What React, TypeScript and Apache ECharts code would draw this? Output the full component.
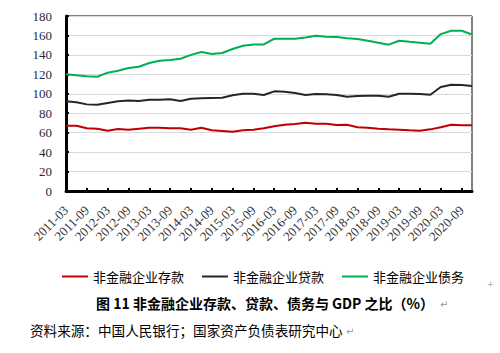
import React, { useEffect, useRef } from "react";
import * as echarts from "echarts";

const categories = [
  "2011-03", "2011-06", "2011-09", "2011-12",
  "2012-03", "2012-06", "2012-09", "2012-12",
  "2013-03", "2013-06", "2013-09", "2013-12",
  "2014-03", "2014-06", "2014-09", "2014-12",
  "2015-03", "2015-06", "2015-09", "2015-12",
  "2016-03", "2016-06", "2016-09", "2016-12",
  "2017-03", "2017-06", "2017-09", "2017-12",
  "2018-03", "2018-06", "2018-09", "2018-12",
  "2019-03", "2019-06", "2019-09", "2019-12",
  "2020-03", "2020-06", "2020-09", "2020-12",
];

const seriesNames = ["非金融企业存款", "非金融企业贷款", "非金融企业债务"];

const deposits = [
  67.2, 67.2, 64.5, 64.1, 62, 63.8, 63, 64.1, 65.1, 65.1,
  64.5, 64.5, 63, 65.1, 62.4, 61.7, 61, 62.4, 63, 64.5,
  66.5, 68.2, 68.9, 70.2, 69.2, 69.2, 67.9, 68.2, 65.5, 65.1,
  64.1, 63.4, 63, 62.4, 62, 63.4, 65.5, 68.2, 67.6, 67.6,
];

const loans = [
  92.2, 91.2, 89.1, 88.7, 90.5, 92.2, 93.2, 92.5, 93.9, 93.9,
  94.3, 92.5, 94.9, 95.3, 95.6, 95.9, 98.4, 100, 100, 98.7,
  102.5, 102.1, 100.8, 98.7, 99.7, 99.4, 98.7, 97, 97.7, 98,
  98, 97, 100, 100, 99.7, 99, 106.9, 109.3, 109, 108,
];

const debt = [
  120, 119, 118, 117.5, 121.7, 123.7, 126.5, 127.8, 131.6, 134,
  134.7, 136, 140, 143, 141, 142, 146, 149.4, 150.8, 150.8,
  156.6, 156.6, 156.6, 158, 159.7, 158.7, 158.4, 157, 156.3, 154.6,
  152.5, 150.5, 154.6, 153.5, 152.5, 151.5, 161.4, 164.8, 164.8, 161,
];

const colors = ["#C00000", "#262626", "#00B050"];

const titleText = "图 11 非金融企业存款、贷款、债务与 GDP 之比（%）";
const sourceText = "资料来源：中国人民银行；国家资产负债表研究中心";

export default function App() {
  const ref = useRef<HTMLDivElement>(null);

  useEffect(() => {
    if (!ref.current) return;
    const chart = echarts.init(ref.current, undefined, { renderer: "svg" });
    const serif = "'Liberation Serif', 'Times New Roman', serif";
    const cjk = "'Noto Sans CJK SC', sans-serif";
    const dataSets = [deposits, loans, debt];
    chart.setOption({
      animation: false,
      backgroundColor: "#ffffff",
      grid: {
        left: 66,
        right: 28,
        top: 16,
        bottom: 162,
        show: true,
        borderColor: "#000",
        borderWidth: 1,
      },
      legend: {
        left: 57,
        top: 265,
        itemWidth: 26,
        itemHeight: 2,
        itemGap: 18,
        icon: "rect",
        data: seriesNames,
        textStyle: { fontFamily: cjk, fontSize: 13, color: "#000" },
      },
      xAxis: {
        type: "category",
        boundaryGap: false,
        data: categories,
        axisLine: { show: true, lineStyle: { color: "#000", width: 3 } },
        axisTick: { show: true, inside: true, length: 3, interval: 1, lineStyle: { color: "#000", width: 2 } },
        axisLabel: {
          interval: 1,
          rotate: 45,
          margin: 17,
          fontFamily: serif,
          fontSize: 13,
          color: "#333",
        },
        splitLine: { show: false },
      },
      yAxis: {
        type: "value",
        min: 0,
        max: 180,
        interval: 20,
        axisLine: { show: true, lineStyle: { color: "#000", width: 3 } },
        axisTick: { show: true, inside: true, length: 3, lineStyle: { color: "#000", width: 2 } },
        axisLabel: { margin: 14, fontFamily: serif, fontSize: 13, color: "#1f2a44" },
        splitLine: { show: true, lineStyle: { color: "#D9D9D9", width: 1 } },
      },
      series: seriesNames.map((name, i) => ({
        name,
        type: "line",
        data: dataSets[i],
        symbol: "none",
        smooth: false,
        lineStyle: { color: colors[i], width: 2 },
        itemStyle: { color: colors[i] },
      })),
      graphic: [
        {
          type: "text",
          x: 96,
          y: 303,
          style: {
            text: titleText,
            font: "bold 14px 'Noto Sans CJK SC', sans-serif",
            fill: "#000",
            textVerticalAlign: "middle",
          },
        },
        {
          type: "text",
          x: 440,
          y: 304,
          style: {
            text: "↵",
            font: "10px 'DejaVu Sans', sans-serif",
            fill: "#999",
            textVerticalAlign: "middle",
          },
        },
        {
          type: "text",
          x: 30,
          y: 330,
          style: {
            text: sourceText,
            font: "13.6px 'Noto Sans CJK SC', sans-serif",
            fill: "#000",
            textVerticalAlign: "middle",
          },
        },
        {
          type: "text",
          x: 346,
          y: 331,
          style: {
            text: "↵",
            font: "10px 'DejaVu Sans', sans-serif",
            fill: "#999",
            textVerticalAlign: "middle",
          },
        },
        {
          type: "text",
          x: 487,
          y: 284,
          style: {
            text: "+",
            font: "8px 'DejaVu Sans', sans-serif",
            fill: "#aaa",
            textVerticalAlign: "middle",
          },
        },
      ],
    });
    return () => chart.dispose();
  }, []);

  return (
    <div
      ref={ref}
      style={{ position: "fixed", left: 0, top: 0, width: 500, height: 353, background: "#fff" }}
    />
  );
}
